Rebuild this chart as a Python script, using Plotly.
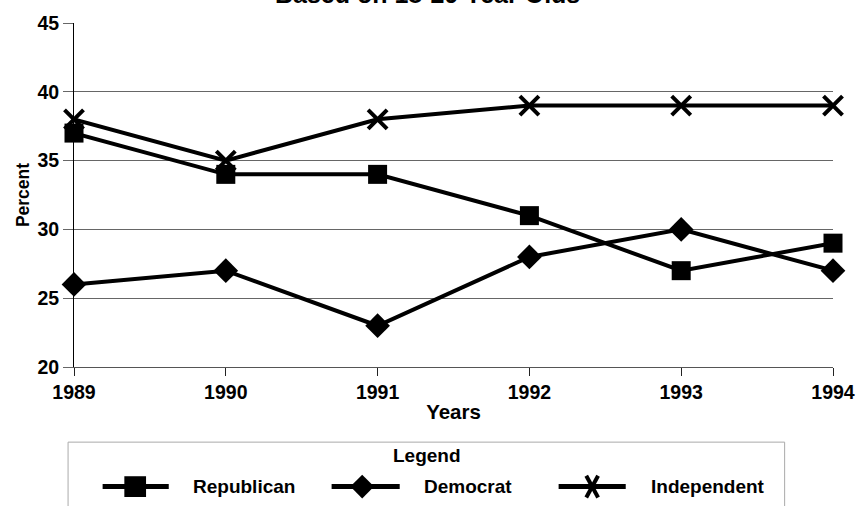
import plotly.graph_objects as go

years = [1989, 1990, 1991, 1992, 1993, 1994]
republican = [37, 34, 34, 31, 27, 29]
democrat = [26, 27, 23, 28, 30, 27]
independent = [38, 35, 38, 39, 39, 39]
y_ticks = [20, 25, 30, 35, 40, 45]

W, H = 867, 506
L, R, T, B = 74, 24, 19, 139
PW, PH = W - L - R, H - T - B
FONT = "Liberation Sans, Arial, sans-serif"


def px(x):
    return (x - L) / PW


def py(y):
    return (H - B - y) / PH


fig = go.Figure()
series = [
    ("Republican", republican, dict(symbol="square", size=19, color="black")),
    ("Democrat", democrat, dict(symbol="diamond", size=19, color="black")),
    ("Independent", independent, dict(symbol="x-thin", size=19, color="black",
                                      line=dict(width=4, color="black"))),
]
for name, vals, mk in series:
    fig.add_trace(go.Scatter(x=years, y=vals, name=name, mode="lines+markers",
                             line=dict(color="black", width=4), marker=mk,
                             cliponaxis=False, showlegend=False))

fig.update_layout(
    width=W, height=H,
    margin=dict(l=L, r=R, t=T, b=B),
    paper_bgcolor="white", plot_bgcolor="white",
    font=dict(family=FONT, size=19, color="black", weight="bold"),
)
fig.update_xaxes(
    range=[1989, 1994], tickvals=years, ticktext=[str(y) for y in years],
    showgrid=False, zeroline=False,
    showline=True, linecolor="#555", linewidth=1,
    ticks="outside", ticklen=8, tickcolor="#222",
    tickfont=dict(family=FONT, size=19.5, weight="bold"),
    title=dict(text="Years", font=dict(family=FONT, size=20.5, weight="bold"), standoff=2),
)
fig.update_yaxes(
    range=[20, 45], tickvals=y_ticks,
    showgrid=True, gridcolor="#666", gridwidth=1.4, zeroline=False,
    showline=True, linecolor="black", linewidth=1,
    ticks="outside", ticklen=10, tickcolor="#666",
    tickfont=dict(family=FONT, size=19.5, weight="bold"),
    title=dict(text="Percent", font=dict(family=FONT, size=17.5, weight="bold"), standoff=3),
)

# Title (partly cut off at the top, as in the reference)
fig.add_annotation(text="Based on 18-29 Year Olds", xref="paper", yref="paper",
                   x=px(432), y=py(-10.5), xanchor="center", yanchor="middle",
                   showarrow=False, font=dict(family=FONT, size=25, weight="bold"))

# Legend box
fig.add_shape(type="rect", xref="paper", yref="paper",
              x0=px(68), x1=px(794), y0=py(443), y1=py(530),
              line=dict(color="#aaa", width=1), fillcolor="rgba(0,0,0,0)")
fig.add_annotation(text="Legend", xref="paper", yref="paper", x=px(432), y=py(457),
                   xanchor="center", yanchor="middle", showarrow=False,
                   font=dict(family=FONT, size=19, weight="bold"))

ly = 488
entries = [
    ("Republican", 103, 170, 136, 193, "square"),
    ("Democrat", 335, 404, 366, 427, "diamond"),
    ("Independent", 565, 633, 599, 657, "x"),
]
for name, x0, x1, mx, tx, sym in entries:
    fig.add_shape(type="line", xref="paper", yref="paper",
                  x0=px(x0), x1=px(x1), y0=py(ly), y1=py(ly),
                  line=dict(color="black", width=5))
    if sym == "square":
        fig.add_shape(type="rect", xref="paper", yref="paper",
                      x0=px(mx - 11), x1=px(mx + 11), y0=py(ly - 10.5), y1=py(ly + 10.5),
                      line=dict(width=0), fillcolor="black")
    elif sym == "diamond":
        d = 12
        path = (f"M {px(mx - d)} {py(ly)} L {px(mx)} {py(ly - d)} "
                f"L {px(mx + d)} {py(ly)} L {px(mx)} {py(ly + d)} Z")
        fig.add_shape(type="path", xref="paper", yref="paper", path=path,
                      line=dict(width=0), fillcolor="black")
    else:
        dx, dy = 6, 11
        for sx in (-1, 1):
            fig.add_shape(type="line", xref="paper", yref="paper",
                          x0=px(mx - sx * dx), x1=px(mx + sx * dx),
                          y0=py(ly - dy), y1=py(ly + dy),
                          line=dict(color="black", width=4))
    fig.add_annotation(text=name, xref="paper", yref="paper", x=px(tx), y=py(ly),
                       xanchor="left", yanchor="middle", showarrow=False,
                       font=dict(family=FONT, size=19, weight="bold"))

fig.write_html(
    "out.html",
    config={"displayModeBar": False},
    post_script="document.body.style.margin='0';document.body.style.overflow='hidden';",
)
